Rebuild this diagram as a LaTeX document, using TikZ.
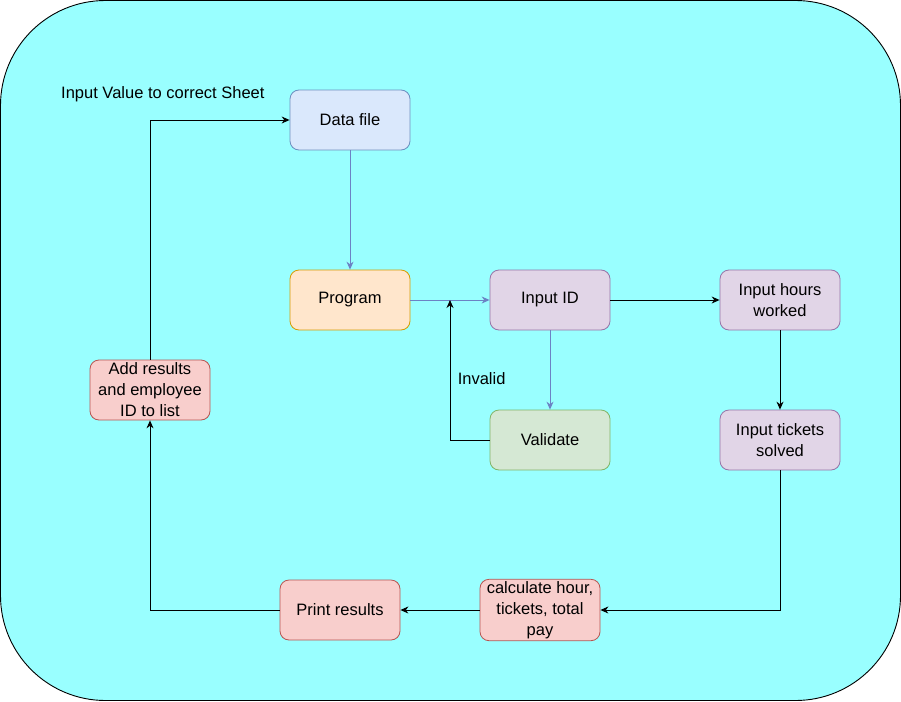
\documentclass[tikz,border=0pt]{standalone}
\usepackage{fontspec}
\setmainfont{Liberation Sans}
\usetikzlibrary{arrows.meta, positioning}
\definecolor{bgcyan}{RGB}{153, 255, 255}
\definecolor{edgeblue}{RGB}{108, 130, 196}
\definecolor{blueF}{HTML}{DAE8FC}\definecolor{blueD}{HTML}{6C8EBF}
\definecolor{orangeF}{HTML}{FFE6CC}\definecolor{orangeD}{HTML}{D79B00}
\definecolor{purpleF}{HTML}{E1D5E7}\definecolor{purpleD}{HTML}{9673A6}
\definecolor{greenF}{HTML}{D5E8D4}\definecolor{greenD}{HTML}{82B366}
\definecolor{redF}{HTML}{F8CECC}\definecolor{redD}{HTML}{B85450}

\begin{document}
\begin{tikzpicture}[
  x=1pt, y=-1pt,
  fbox/.style={rounded corners=9pt, minimum width=120pt, minimum height=60pt, align=center, inner sep=2pt, line width=0.8pt, font=\fontsize{16.5}{21}\selectfont},
  bluebox/.style={fbox, draw=blueD, fill=blueF},
  orangebox/.style={fbox, draw=orangeD, fill=orangeF},
  purplebox/.style={fbox, draw=purpleD, fill=purpleF},
  greenbox/.style={fbox, draw=greenD, fill=greenF},
  redbox/.style={fbox, draw=redD, fill=redF},
  flow/.style={line width=0.9pt, -{Stealth[length=8pt, width=7pt]}},
  blueflow/.style={flow, draw=edgeblue, -{Stealth[length=8pt, width=7pt, fill=edgeblue]}}
]
  \useasboundingbox (0,0) rectangle (901,701);
  \draw[fill=bgcyan, line width=0.9pt, rounded corners=105pt] (0.5,0.5) rectangle (900.5,700.5);

  \node[bluebox] (data) at (350, 120) {Data file};
  \node[orangebox] (prog) at (350, 300) {Program};
  \node[purplebox] (inid) at (550, 300) {Input ID};
  \node[purplebox] (hours) at (780, 300) {Input hours\\worked};
  \node[greenbox] (valid) at (550, 440) {Validate};
  \node[purplebox] (tickets) at (780, 440) {Input tickets\\solved};
  \node[redbox] (calc) at (540, 610) {calculate hour,\\tickets, total\\pay};
  \node[redbox] (print) at (340, 610) {Print results};
  \node[redbox] (addres) at (150, 390) {Add results\\and employee\\ID to list};

  \node[font=\fontsize{16.5}{20}\selectfont, anchor=west, inner sep=0pt] (sheet) at (61, 94) {Input Value to correct Sheet};
  \coordinate (join) at (450, 300);

  \draw[blueflow] (data) -- (prog);
  \draw[blueflow] (prog) -- (inid);
  \draw[blueflow] (inid) -- (valid);
  \draw[flow] (valid.west) -| (join) node[pos=0.72, right=4pt, font=\fontsize{16.5}{20}\selectfont] {Invalid};
  \draw[flow] (inid) -- (hours);
  \draw[flow] (hours) -- (tickets);
  \draw[flow] (tickets.south) |- (calc.east);
  \draw[flow] (calc) -- (print);
  \draw[flow] (print.west) -| (addres.south);
  \draw[flow] (addres.north) |- (data.west);
\end{tikzpicture}
\end{document}
